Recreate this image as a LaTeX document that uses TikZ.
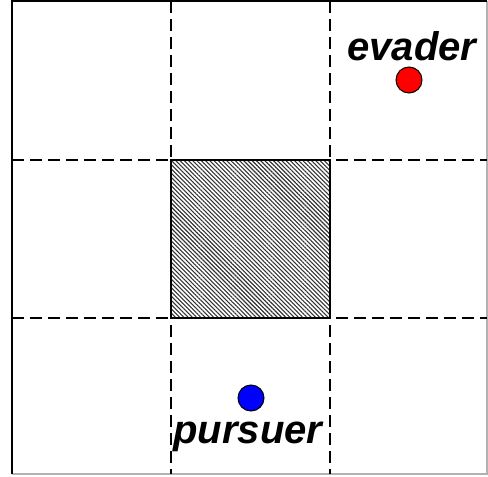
\documentclass[tikz,border=0pt]{standalone}
\usepackage{fontspec}
\setmainfont{Liberation Sans}
\usetikzlibrary{patterns.meta}
\begin{document}
\begin{tikzpicture}[x=1pt,y=-1pt,
  gridline/.style={line width=2.4pt,dash pattern=on 12pt off 6pt},
  frame/.style={line width=2.4pt},
  agent/.style={circle,draw=black,line width=1pt,minimum size=26pt,inner sep=0pt},
  lab/.style={anchor=base,inner sep=0pt,font=\fontsize{40}{40}\selectfont\bfseries\itshape}]
\useasboundingbox (0,0) rectangle (488,477);
% frame
\coordinate (tl) at (12,1);
\coordinate (bl) at (12,474);
\coordinate (tr) at (487,1);
\coordinate (br) at (487,474);
\draw[gray!60,line width=1.2pt] (bl) -- (br) -- (tr);
\draw[frame] (bl) -- (tl) -- (tr);
% obstacle
\node[draw=black,line width=2.4pt,minimum width=159pt,minimum height=158pt,inner sep=0pt,
  pattern={Lines[angle=-45,distance=3pt,line width=1.1pt]},pattern color=black!80] (obs) at (250.5,239) {};
% grid lines
\coordinate (v1t) at (171,1); \coordinate (v1b) at (171,474);
\coordinate (v2t) at (330,1); \coordinate (v2b) at (330,474);
\coordinate (h1l) at (12,160); \coordinate (h1r) at (487,160);
\coordinate (h2l) at (12,318); \coordinate (h2r) at (487,318);
\draw[gridline] (v1t) -- (v1b);
\draw[gridline] (v2t) -- (v2b);
\draw[gridline] (h1l) -- (h1r);
\draw[gridline] (h2l) -- (h2r);
% agents
\node[agent,fill=red] (evader) at (409,80) {};
\node[agent,fill=blue] (pursuer) at (251,398) {};
\node[lab] (evlab) at (412,60) {evader};
\node[lab] (pulab) at (248,443) {pursuer};
\end{tikzpicture}
\end{document}
